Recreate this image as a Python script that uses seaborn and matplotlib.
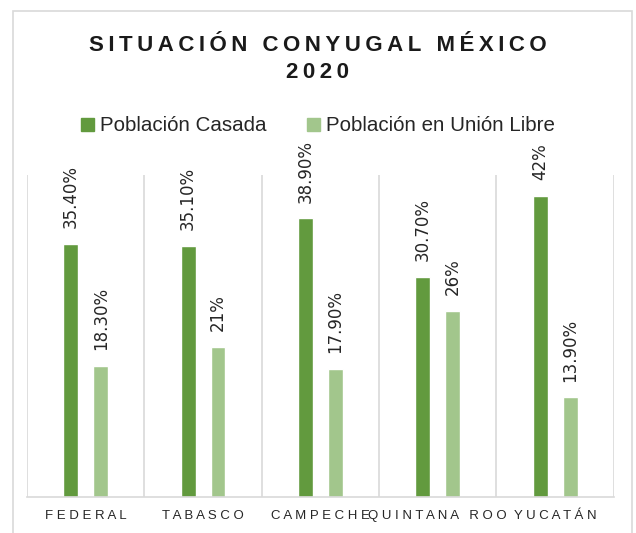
import pandas as pd
import matplotlib
matplotlib.use("Agg")
import matplotlib.pyplot as plt
import seaborn as sns
from matplotlib.patches import Rectangle

# data
estados = ['FEDERAL', 'TABASCO', 'CAMPECHE', 'QUINTANA ROO', 'YUCATÁN']
casada = [35.4, 35.1, 38.9, 30.7, 42]
union_libre = [18.3, 21, 17.9, 26, 13.9]
casada_txt = ['35.40%', '35.10%', '38.90%', '30.70%', '42%']
union_txt = ['18.30%', '21%', '17.90%', '26%', '13.90%']
series = ['Población Casada', 'Población en Unión Libre']
colores = ['#629A3E', '#A2C68C']


def spaced(s, sep='\u2009'):
    return sep.join(list(s))


df = pd.DataFrame({
    'estado': estados * 2,
    'valor': casada + union_libre,
    'serie': [series[0]] * 5 + [series[1]] * 5,
    'txt': casada_txt + union_txt,
})

sns.set_style('white')
plt.rcParams['font.family'] = ['Liberation Sans', 'DejaVu Sans']

fig = plt.figure(figsize=(6.36, 5.33), dpi=100)
ax = fig.add_axes([0.0425, 0.0675, 0.9225, 0.6045])

sns.barplot(data=df, x='estado', y='valor', hue='serie', order=estados,
            hue_order=series, palette=colores, width=0.51, gap=0.5,
            saturation=1, ax=ax, legend=False)

ax.set_ylim(0, 45)
ax.set_xlim(-0.5, len(estados) - 0.5)
ax.set_yticks([])
ax.set_xlabel('')
ax.set_ylabel('')
for s in ['top', 'left', 'right']:
    ax.spines[s].set_visible(False)
ax.spines['bottom'].set_color('#D9D9D9')
ax.spines['bottom'].set_linewidth(1.2)

# vertical separators between categories
for i in range(len(estados) + 1):
    ax.axvline(i - 0.5, color='#D9D9D9', lw=1.2, zorder=0)

ax.set_xticks(range(len(estados)))
ax.set_xticklabels([spaced(e, ' ') for e in estados], fontsize=9.5,
                   color='#262626')
ax.tick_params(axis='x', length=0, pad=9)

# value labels
for cont, textos in zip(ax.containers, [casada_txt, union_txt]):
    for bar, t in zip(cont, textos):
        ax.annotate(t, (bar.get_x() + bar.get_width() / 2, bar.get_height()),
                    xytext=(0, 11.5), textcoords='offset points', rotation=90,
                    ha='center', va='bottom', fontsize=12, color='#262626',
                    family='DejaVu Sans', annotation_clip=False)

fig.text(0.5, 0.889, spaced('SITUACIÓN CONYUGAL MÉXICO') + '\n' + spaced('2020'),
         ha='center', va='center', fontsize=16, fontweight='bold',
         color='#1A1A1A', linespacing=1.35)

# legend
handles = [Rectangle((0, 0), 1, 1, color=c) for c in colores]
fig.legend(handles, series, loc='center', bbox_to_anchor=(0.5, 0.764),
           ncol=2, frameon=False, fontsize=14.8, handlelength=0.6,
           handleheight=0.6, handletextpad=0.3, columnspacing=2.0)

# outer chart border
fig.patches.append(Rectangle((0.02, -0.01), 0.973, 0.99, transform=fig.transFigure,
                             fill=False, edgecolor='#D9D9D9', lw=1.2))

fig.savefig('out.png', dpi=100)
